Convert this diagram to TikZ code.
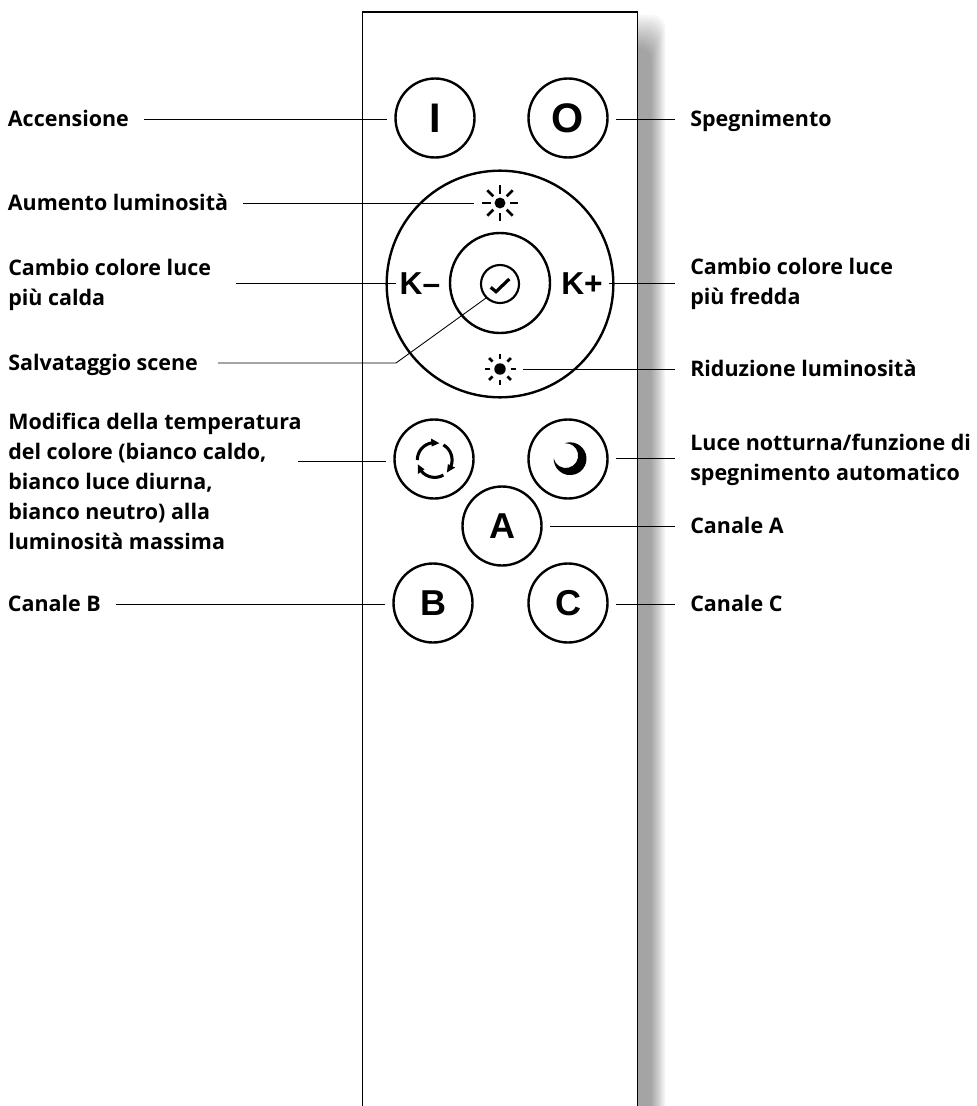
\documentclass[tikz,border=0pt]{standalone}
\usepackage{fontspec}
\setmainfont{Open Sans}
\newfontfamily\keyfont{Liberation Sans}
\usetikzlibrary{positioning,calc}
\tikzset{
    btn/.style={circle,draw,line width=1.8pt,minimum size=59.25pt,inner sep=0pt,outer sep=6.4pt},
    keytxt/.style={inner sep=0pt,font=\keyfont\bfseries\fontsize{27}{27}\selectfont},
    lbl/.style={align=left,inner ysep=0pt,inner xsep=0pt,font=\bfseries\fontsize{16.1}{22.5}\selectfont},
    lblleft/.style={lbl,anchor=west,inner xsep=11pt,text height=12.5pt,text depth=2pt},
    lblright/.style={lbl,anchor=west,inner xsep=11.25pt,text height=12.5pt,text depth=2pt},
    leader/.style={line width=0.65pt},
    ray/.style={line width=2.1pt},
}
\begin{document}
\begin{tikzpicture}[x=0.75pt,y=0.75pt,yscale=-1,xscale=1]
        \useasboundingbox (0,0) rectangle (977,1106);
        %body shadow
        \foreach \i in {1,...,14}
            \fill[black,opacity=0.03,rounded corners=10pt] (610,{50-2.5*\i}) rectangle ({650+1.1*\i},1130);
        %body
        \draw[fill=white,line width=1pt] (362.5,1130) -- (362.5,12) -- (637.5,12) -- (637.5,1130);
        %big ring
        \node[circle,draw,line width=1.8pt,minimum size=170pt,inner sep=0pt] (ring) at (500,284) {};
        \node[circle,draw,line width=1.8pt,minimum size=75pt,inner sep=0pt] (midring) at (500,283) {};
        \node[circle,draw,line width=1.6pt,minimum size=28.5pt,inner sep=0pt] (okbtn) at (500,284) {};
        \draw[line width=2.4pt] (490.7,287.3) -- (496,291.7) -- (509.3,279);
        %buttons
        \node[btn] (btnI) at (435,118) {};
        \node[keytxt,font=\keyfont\bfseries\fontsize{31}{31}\selectfont] at (435,118) {I};
        \node[btn] (btnO) at (568,118) {};
        \node[keytxt,font=\keyfont\bfseries\fontsize{31}{31}\selectfont] at (568,118) {O};
        \node[btn] (btnCycle) at (434,459) {};
        \node[btn] (btnMoon) at (568,459) {};
        \node[btn,keytxt,inner sep=0pt] (btnA) at (502,526) {A};
        \node[btn,keytxt,inner sep=0pt] (btnB) at (433,603) {B};
        \node[btn,keytxt,inner sep=0pt] (btnC) at (568,603) {C};
        \node[keytxt,font=\keyfont\bfseries\fontsize{23.8}{24}\selectfont,outer sep=3pt] (kminus) at (420,284) {K\textendash};
        \node[keytxt,font=\keyfont\bfseries\fontsize{23.8}{24}\selectfont,outer sep=4.5pt] (kplus) at (582,284) {K+};
        %sun icons
        \node[circle,fill,minimum size=8.2pt,inner sep=0pt,outer sep=15.4pt] (sunUp) at (500,203) {};
        \foreach \a in {0,45,...,315}
            \draw[ray] (sunUp.center) ++(\a:9.5) -- ++(\a:8.5);
        \node[circle,fill,minimum size=8.6pt,inner sep=0pt,outer sep=13.2pt] (sunDown) at (500,369) {};
        \foreach \a in {0,45,...,315}
            \draw[ray] (sunDown.center) ++(\a:10.5) -- ++(\a:5);
        %cycle icon
        \foreach \a in {0,120,240}{
            \begin{scope}[shift={(434.7,460)},rotate=\a]
                \draw[line width=2.3pt] (180:17.4) arc (180:262:17.4);
                \fill (4.7,-16.8) -- (-3.7,-21.5) -- (-3,-13.5) -- cycle;
            \end{scope}
        }
        %moon
        \fill (565,443.1) arc (-108:181:16.4) arc (167:-92:12.4) -- cycle;
        %left labels
        \node[lblleft] (lblOn) at (-7,119) {Accensione};
        \node[lblleft] (lblUp) at (-7,203) {Aumento luminosità};
        \node[lbl,anchor=west] (lblWarm) at (8,285) {Cambio colore luce\\più calda};
        \node[lbl,anchor=west] (lblSave) at (8,365) {Salvataggio scene};
        \node[lbl,anchor=west] (lblTemp) at (8,481) {Modifica della temperatura\\del colore (bianco caldo,\\bianco luce diurna,\\bianco neutro) alla\\luminosità massima};
        \node[lblleft] (lblB) at (-7,604) {Canale B};
        %right labels
        \node[lblright] (lblOff) at (675,119) {Spegnimento};
        \node[lbl,anchor=west] (lblCold) at (690,284) {Cambio colore luce\\più fredda};
        \node[lblright] (lblDown) at (675,369) {Riduzione luminosità};
        \node[lbl,anchor=west] (lblNight) at (690,460) {Luce notturna/funzione di\\spegnimento automatico};
        \node[lblright] (lblA) at (675,526) {Canale A};
        \node[lblright] (lblC) at (675,604) {Canale C};
        %leaders
        \coordinate (endWarm) at (236,283);
        \coordinate (endTemp) at (298,461);
        \coordinate (endCold) at (675,283);
        \coordinate (endNight) at (675,458);
        \coordinate (endSave) at (218,363);
        \coordinate (bendSave) at (396,363);
        \draw[leader] (lblOn.east) -- (lblOn.east -| btnI.west);
        \draw[leader] (lblUp.east) -- (lblUp.east -| sunUp.west);
        \draw[leader] (endWarm) -- (endWarm -| kminus.west);
        \draw[leader] (endSave) -- (bendSave) -- (okbtn.225);
        \draw[leader] (endTemp) -- (endTemp -| btnCycle.west);
        \draw[leader] (lblB.east) -- (lblB.east -| btnB.west);
        \draw[leader] (lblOff.west) -- (lblOff.west -| btnO.east);
        \draw[leader] (endCold) -- (endCold -| kplus.east);
        \draw[leader] (lblDown.west) -- (lblDown.west -| sunDown.east);
        \draw[leader] (endNight) -- (endNight -| btnMoon.east);
        \draw[leader] (lblA.west) -- (lblA.west -| btnA.east);
        \draw[leader] (lblC.west) -- (lblC.west -| btnC.east);
\end{tikzpicture}
\end{document}
